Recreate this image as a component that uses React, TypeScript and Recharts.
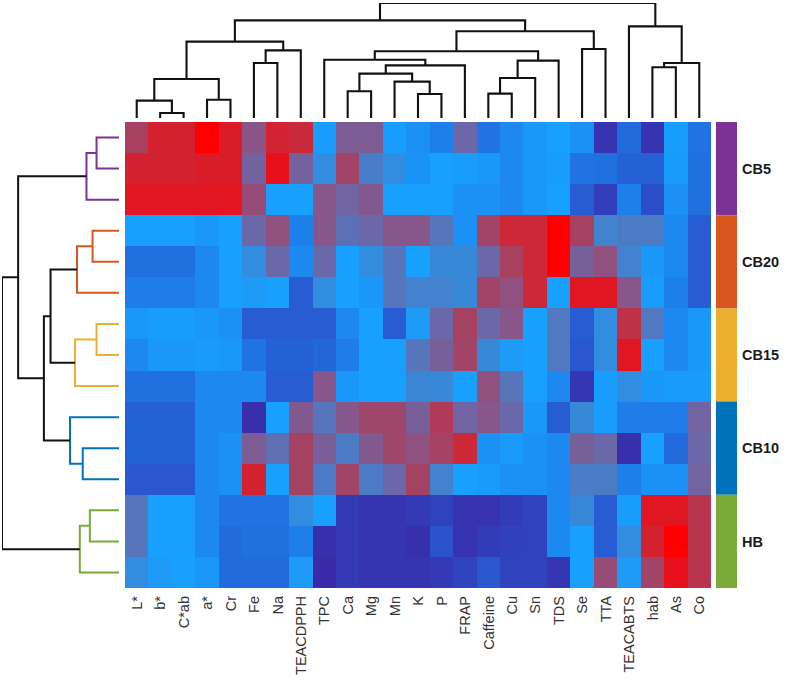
import React from 'react';
import { ComposedChart, LineChart, Line, XAxis, YAxis, ReferenceArea } from 'recharts';

// Column order (features) as produced by the column clustering
const features = [
  'L*', 'b*', 'C*ab', 'a*', 'Cr', 'Fe', 'Na', 'TEACDPPH', 'TPC', 'Ca', 'Mg', 'Mn', 'K',
  'P', 'FRAP', 'Caffeine', 'Cu', 'Sn', 'TDS', 'Se', 'TTA', 'TEACABTS', 'hab', 'As', 'Co',
];

// Sample groups (three replicates each) and their annotation colours
const groups = ['CB5', 'CB20', 'CB15', 'CB10', 'HB'];
const groupColors = ['#7B3294', '#D9561F', '#EBB02F', '#0072BB', '#7BAA3A'];

// Scaled values, one array per replicate row, in feature order
const cb5Rows = [
  [0.72, 0.88, 0.88, 1.0, 0.9, 0.52, 0.87, 0.84, -0.02, 0.45, 0.45, -0.02, -0.1, -0.2, 0.35, -0.28, -0.15, -0.05, 0, -0.1, -0.9, -0.35, -0.9, -0.02, -0.28],
  [0.88, 0.88, 0.88, 0.9, 0.9, 0.4, 0.95, 0.4, 0.08, 0.68, 0.18, 0.08, -0.08, 0, -0.02, -0.05, -0.15, -0.05, -0.02, -0.28, -0.3, -0.45, -0.45, -0.03, -0.3],
  [0.92, 0.92, 0.92, 0.92, 0.93, 0.6, 0, 0, 0.5, 0.38, 0.48, 0, 0, 0, -0.1, -0.1, -0.15, -0.05, 0, -0.5, -0.8, -0.2, -0.65, -0.1, -0.3],
];
const cb20Rows = [
  [0, 0, 0, -0.05, 0, 0.35, 0.55, -0.2, 0.5, 0.28, 0.35, 0.5, 0.5, 0.25, -0.1, 0.68, 0.85, 0.85, 1.0, 0.7, 0.15, 0.2, 0.2, -0.15, -0.5],
  [-0.3, -0.3, -0.3, -0.15, 0, 0.08, 0.35, -0.15, 0.35, 0, 0.08, 0.25, 0, 0.1, 0.1, 0.35, 0.72, 0.85, 1.0, 0.42, 0.55, 0.15, -0.05, -0.15, -0.5],
  [-0.22, -0.22, -0.22, -0.15, 0, 0.02, 0, -0.5, 0.08, 0, -0.05, 0.25, 0.15, 0.15, 0.1, 0.68, 0.55, 0.85, 0, 0.92, 0.92, 0.5, -0.02, -0.2, -0.5],
];
const cb15Rows = [
  [-0.05, -0.02, -0.02, -0.05, -0.1, -0.5, -0.5, -0.5, -0.5, -0.15, 0, -0.5, 0.02, 0.35, 0.7, 0.35, 0.5, 0, 0.22, -0.5, 0.08, 0.8, 0.22, -0.15, -0.05],
  [-0.15, -0.05, -0.05, -0.03, -0.05, -0.28, -0.45, -0.45, -0.4, -0.22, 0, 0, 0.25, 0.42, 0.68, 0.1, 0.02, 0, 0.22, -0.55, 0.08, 0.92, 0, -0.15, -0.05],
  [-0.3, -0.3, -0.3, -0.15, -0.15, -0.15, -0.5, -0.5, 0.5, -0.05, 0, 0, 0.12, 0.1, 0, 0.55, 0.25, 0, -0.15, -0.88, -0.02, 0.08, -0.05, -0.03, -0.03],
];
const cb10Rows = [
  [-0.45, -0.45, -0.45, -0.15, -0.15, -0.95, 0, 0.48, 0.25, 0.5, 0.65, 0.65, 0.42, 0.75, 0.38, 0.5, 0.35, -0.05, -0.5, 0.1, -0.02, -0.22, -0.22, -0.22, 0.38],
  [-0.45, -0.45, -0.45, -0.15, -0.1, 0.45, 0.3, 0.7, 0.43, 0.2, 0.48, 0.65, 0.55, 0.7, 0.85, -0.1, -0.03, -0.1, -0.15, 0.42, 0.35, -0.95, 0, -0.35, 0.35],
  [-0.55, -0.55, -0.55, -0.15, -0.1, 0.88, 0, 0.7, 0.2, 0.68, 0.2, 0.35, 0.7, 0.15, 0, -0.03, -0.1, -0.1, -0.15, 0.18, 0.2, -0.2, -0.1, -0.1, 0.38],
];
const hbRows = [
  [0.25, 0, 0, -0.15, -0.28, -0.28, -0.28, 0.08, 0, -0.85, -0.9, -0.9, -0.85, -0.75, -0.92, -0.92, -0.82, -0.75, -0.15, 0.1, -0.5, -0.02, 0.92, 0.92, 0.78],
  [0.25, 0, 0, -0.15, -0.35, -0.3, -0.3, -0.2, -0.95, -0.85, -0.9, -0.9, -0.95, -0.6, -0.92, -0.82, -0.78, -0.75, -0.15, 0, -0.5, 0.08, 0.88, 1.0, 0.78],
  [0.08, 0.02, 0, -0.05, -0.35, -0.35, -0.35, 0.02, -1.0, -0.85, -0.9, -0.9, -0.9, -0.85, -0.75, -0.55, -0.75, -0.75, -0.88, 0, 0.6, 0.02, 0.68, 0.95, 0.78],
];
const sampleRows = [...cb5Rows, ...cb20Rows, ...cb15Rows, ...cb10Rows, ...hbRows];

// Column dendrogram: [left node, right node, height]; nodes 0-24 are leaves, 25+ are merges
const featureMerges: [number, number, number][] = [
  [1, 2, 0.43], [0, 25, 1.51], [3, 4, 1.59], [26, 27, 3.39], [5, 6, 4.78], [29, 7, 5.88],
  [28, 30, 6.64], [9, 10, 2.32], [12, 13, 2.09], [11, 33, 3.16], [32, 34, 3.86], [35, 14, 4.58],
  [8, 36, 5.07], [15, 16, 2.12], [38, 17, 3.48], [39, 18, 4.99], [37, 40, 5.8], [19, 20, 6.0],
  [41, 42, 7.54], [31, 43, 8.49], [22, 23, 4.41], [45, 24, 4.78], [21, 46, 7.97], [44, 47, 10],
];

// Row dendrogram: nodes 0-14 are rows, 15+ are merges
const sampleMerges: [number, number, number][] = [
  [0, 1, 1.92], [15, 2, 2.78], [3, 4, 2.26], [17, 5, 3.59], [6, 7, 1.92], [19, 8, 3.76],
  [18, 20, 5.85], [10, 11, 3.1], [9, 22, 4.19], [21, 23, 6.42], [16, 24, 8.62],
  [12, 13, 2.49], [26, 14, 3.35], [25, 27, 10],
];
// Which group colours each row merge (-1 = link between groups)
const sampleMergeGroup = [0, 0, 1, 1, 2, 2, -1, 3, 3, -1, -1, 4, 4, -1];

// Colour ramp: deep indigo -> bright blue -> mauve -> red
const paletteStops: [number, string][] = [
  [-1, '#3a2aa8'], [-0.6, '#2a52cc'], [-0.3, '#2070e0'], [0, '#18a0ff'], [0.1, '#3888d8'],
  [0.35, '#6a68a8'], [0.55, '#905080'], [0.72, '#a84060'], [0.85, '#cc2838'], [0.95, '#e8101a'], [1, '#ff0000'],
];

const hexToRgb = (h: string) => [1, 3, 5].map((i) => parseInt(h.slice(i, i + 2), 16));
function heatColor(v: number) {
  const t = Math.max(-1, Math.min(1, v));
  for (let i = 1; i < paletteStops.length; i++) {
    const [v1, c1] = paletteStops[i];
    if (t <= v1) {
      const [v0, c0] = paletteStops[i - 1];
      const f = (t - v0) / (v1 - v0);
      const a = hexToRgb(c0);
      const b = hexToRgb(c1);
      const rgb = a.map((x, k) => Math.round(x + (b[k] - x) * f));
      return `rgb(${rgb[0]},${rgb[1]},${rgb[2]})`;
    }
  }
  return paletteStops[paletteStops.length - 1][1];
}

type Pt = { p: number; h: number };
function buildLinks(merges: [number, number, number][], leafCount: number): Pt[][] {
  const pos: number[] = [];
  const hgt: number[] = [];
  for (let i = 0; i < leafCount; i++) {
    pos[i] = i + 0.5;
    hgt[i] = 0;
  }
  return merges.map(([a, b, ht], k) => {
    const id = leafCount + k;
    pos[id] = (pos[a] + pos[b]) / 2;
    hgt[id] = ht;
    return [
      { p: pos[a], h: hgt[a] },
      { p: pos[a], h: ht },
      { p: pos[b], h: ht },
      { p: pos[b], h: hgt[b] },
    ];
  });
}

const featureLinks = buildLinks(featureMerges, features.length);
const sampleLinks = buildLinks(sampleMerges, sampleRows.length);

const FONT = '"Liberation Sans", Arial, Helvetica, sans-serif';
const columnData = features.map((name, i) => ({ x: i + 0.5, name }));
const groupData = groups.map((name, i) => ({ x: 0.5, y: i * 3 + 1.5, name }));

const FeatureTick = (props: any) => {
  const { x, y, payload } = props;
  const label = features[Math.floor(payload.value)];
  return (
    <text
      x={x}
      y={y}
      transform={`rotate(-90 ${x} ${y})`}
      textAnchor="end"
      dy="0.36em"
      fontSize={14.5}
      fontFamily={FONT}
      fill="#333"
    >
      {label}
    </text>
  );
};

export default function App() {
  const nRows = sampleRows.length;
  const nCols = features.length;
  return (
    <div style={{ position: 'absolute', left: 0, top: 0, width: 790, height: 687, background: '#fff', overflow: 'hidden' }}>
      <style>{`.heat .recharts-reference-area-rect{shape-rendering:crispEdges}`}</style>

      {/* column dendrogram */}
      <div style={{ position: 'absolute', left: 125, top: 0 }}>
        <LineChart width={586} height={120} margin={{ top: 3, right: 0, bottom: 2, left: 0 }}>
          <XAxis type="number" dataKey="x" domain={[0, nCols]} allowDataOverflow hide />
          <YAxis type="number" domain={[0, 10]} allowDataOverflow hide />
          {featureLinks.map((pts, i) => (
            <Line
              key={i}
              data={pts.map((q) => ({ x: q.p, y: q.h }))}
              dataKey="y"
              stroke="#111"
              strokeWidth={2.1}
              dot={false}
              activeDot={false}
              isAnimationActive={false}
            />
          ))}
        </LineChart>
      </div>

      {/* row dendrogram */}
      <div style={{ position: 'absolute', left: 0, top: 122 }}>
        <LineChart width={121} height={466} margin={{ top: 0, right: 2, bottom: 0, left: 2 }}>
          <XAxis type="number" dataKey="x" domain={[0, 10]} reversed allowDataOverflow hide />
          <YAxis type="number" domain={[0, nRows]} reversed allowDataOverflow hide />
          {sampleLinks.map((pts, i) => (
            <Line
              key={i}
              data={pts.map((q) => ({ x: q.h, y: q.p }))}
              dataKey="y"
              stroke={sampleMergeGroup[i] >= 0 ? groupColors[sampleMergeGroup[i]] : '#111'}
              strokeWidth={2}
              dot={false}
              activeDot={false}
              isAnimationActive={false}
            />
          ))}
        </LineChart>
      </div>

      {/* heatmap */}
      <div className="heat" style={{ position: 'absolute', left: 125, top: 122 }}>
        <ComposedChart width={586} height={566} data={columnData} margin={{ top: 0, right: 0, bottom: 0, left: 0 }}>
          <XAxis
            type="number"
            dataKey="x"
            domain={[0, nCols]}
            allowDataOverflow
            ticks={columnData.map((d) => d.x)}
            interval={0}
            axisLine={false}
            tickLine={false}
            tickSize={0}
            tickMargin={8}
            height={100}
            tick={<FeatureTick />}
          />
          <YAxis type="number" domain={[0, nRows]} reversed allowDataOverflow hide />
          {sampleRows.map((row, r) =>
            row.map((v, c) => (
              <ReferenceArea
                key={`${r}-${c}`}
                x1={c}
                x2={c + 1}
                y1={r}
                y2={r + 1}
                fill={heatColor(v)}
                fillOpacity={1}
                stroke="none"
                ifOverflow="visible"
              />
            ))
          )}
        </ComposedChart>
      </div>

      {/* group annotation bar */}
      <div style={{ position: 'absolute', left: 716, top: 122 }}>
        <ComposedChart width={74} height={466} data={groupData} margin={{ top: 0, right: 53, bottom: 0, left: 0 }}>
          <XAxis type="number" dataKey="x" domain={[0, 1]} allowDataOverflow hide />
          <YAxis type="number" domain={[0, nRows]} reversed allowDataOverflow hide />
          {groups.map((g, i) => (
            <ReferenceArea
              key={g}
              x1={0}
              x2={1}
              y1={i * 3}
              y2={i * 3 + 3}
              fill={groupColors[i]}
              fillOpacity={1}
              stroke="none"
              ifOverflow="visible"
              label={{
                value: g,
                position: 'right',
                offset: 5,
                fill: '#1a1a1a',
                fontSize: 14.5,
                fontWeight: 'bold',
                fontFamily: FONT,
              }}
            />
          ))}
        </ComposedChart>
      </div>
    </div>
  );
}
